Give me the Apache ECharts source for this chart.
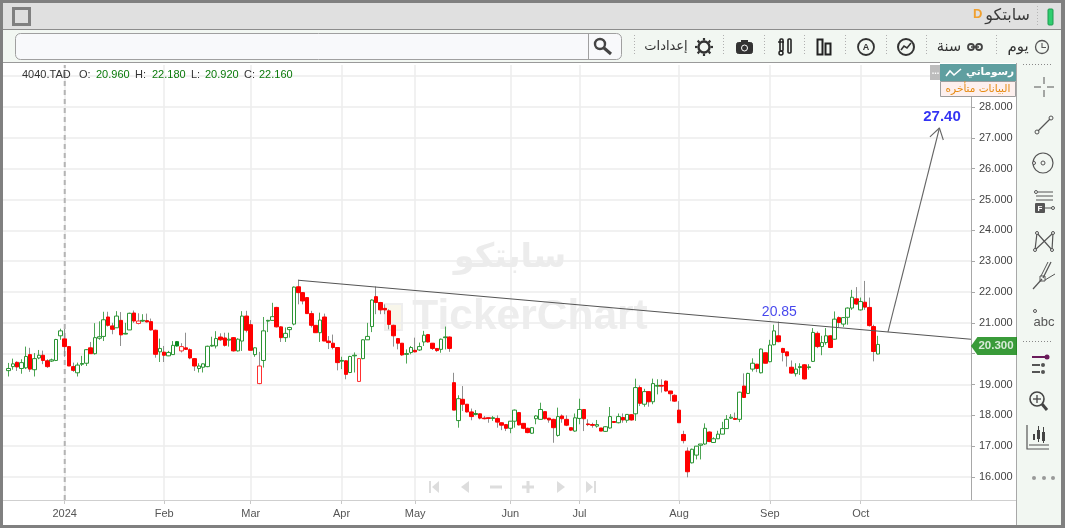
<!DOCTYPE html>
<html><head><meta charset="utf-8">
<style>html,body{margin:0;padding:0;background:#fff}#c{width:1068px;height:530px}</style>
<script src="https://cdn.jsdelivr.net/npm/echarts@6/dist/echarts.min.js"></script>
</head><body><div id="c"></div>
<script>
const opens=[19.45,19.58,19.72,19.52,19.54,19.97,19.48,19.86,19.95,19.77,
19.76,19.78,20.58,20.48,20.23,19.58,19.38,19.66,19.69,20.19,
20.00,20.50,20.56,21.19,20.90,20.84,21.08,20.64,20.77,21.32,
20.98,21.06,21.07,21.04,20.76,20.06,20.05,19.93,19.97,20.25,
20.09,20.19,20.13,19.84,19.52,19.56,19.58,20.25,20.25,20.54,
20.51,20.44,20.52,20.09,20.41,21.22,20.94,19.97,19.03,19.78,
21.06,21.08,21.50,20.87,20.52,20.78,20.96,22.17,21.98,21.82,
21.30,20.92,20.68,21.19,20.41,20.34,20.20,19.76,19.77,19.39,
19.93,19.10,19.84,20.45,20.88,21.85,21.66,21.47,21.39,20.92,
20.49,20.34,19.98,20.04,20.11,20.12,20.38,20.62,20.34,20.17,
20.14,20.52,20.54,19.06,17.83,18.52,18.36,18.11,18.03,18.05,
17.91,17.92,17.90,17.90,17.76,17.70,17.58,17.81,18.09,17.74,
17.58,17.42,17.89,17.87,18.12,17.91,17.87,17.35,17.98,17.87,
17.60,17.49,17.90,18.19,17.72,17.70,17.65,17.59,17.48,17.59,
17.80,17.76,17.93,17.84,18.02,18.05,18.90,18.36,18.77,18.44,
18.95,18.97,19.11,18.79,18.65,18.17,17.38,16.84,16.46,16.71,
17.03,17.07,17.46,17.12,17.24,17.39,17.57,17.91,17.90,17.87,
18.95,18.71,19.50,19.66,19.38,20.03,19.74,20.29,20.58,20.17,
20.06,19.56,19.35,19.55,19.64,19.55,19.75,20.66,20.23,20.36,
20.58,20.47,21.17,20.96,21.18,21.48,21.78,21.42,21.67,21.50,
20.88,19.99];
const closes=[19.52,19.67,19.57,19.71,19.91,19.50,19.84,19.95,19.78,19.58,
19.80,20.46,20.74,20.23,19.60,19.46,19.63,19.68,20.13,20.00,
20.52,20.55,21.10,20.92,20.79,21.22,20.61,20.66,21.31,21.06,
21.06,21.08,21.03,20.77,19.98,20.17,19.95,20.04,20.27,20.39,
20.23,20.14,19.86,19.60,19.60,19.67,20.24,20.27,20.49,20.45,
20.27,20.47,20.09,20.47,21.22,20.76,20.11,20.19,19.60,20.74,
21.08,21.20,20.87,20.52,20.66,20.85,22.16,21.98,21.71,21.30,
20.92,20.68,21.09,20.41,20.36,20.20,19.71,19.78,19.33,19.91,
19.95,19.84,20.45,20.56,21.74,21.66,21.42,21.42,20.95,20.58,
20.34,19.96,20.00,20.20,20.06,20.23,20.60,20.38,20.17,20.10,
20.47,20.54,20.17,18.17,18.54,18.36,18.11,17.96,18.06,17.91,
17.89,17.90,17.92,17.78,17.68,17.58,17.81,18.17,17.69,17.58,
17.44,17.60,17.98,18.19,17.89,17.85,17.60,17.96,17.89,17.68,
17.52,17.92,18.19,17.89,17.70,17.68,17.70,17.49,17.63,17.96,
17.77,17.96,17.85,18.03,17.85,18.90,18.39,18.77,18.44,19.03,
18.97,18.95,18.79,18.70,18.46,17.76,17.18,16.17,16.90,17.00,
17.07,17.58,17.15,17.24,17.39,17.57,17.87,17.94,17.87,18.75,
18.58,19.36,19.69,19.52,20.15,19.69,20.28,20.74,20.39,20.04,
19.93,19.37,19.50,19.58,19.18,19.57,20.69,20.23,20.36,20.58,
20.20,21.12,21.01,21.17,21.48,21.83,21.61,21.69,21.51,20.91,
20.07,20.30];
const highs=[19.70,19.84,19.75,19.82,20.23,20.19,20.02,20.12,20.10,19.82,
19.84,20.48,20.81,20.80,20.25,19.71,19.71,19.93,20.15,20.38,
20.99,21.05,21.36,21.36,21.00,21.38,21.35,21.00,21.33,21.40,
21.31,21.28,21.30,21.14,20.78,20.49,20.25,20.09,20.41,20.41,
20.34,20.68,20.17,19.86,19.69,19.68,20.26,20.55,20.73,20.66,
20.68,20.68,20.54,20.50,21.38,21.39,21.09,20.20,20.06,21.19,
21.10,21.65,21.52,20.89,20.85,20.87,22.18,22.40,22.00,21.82,
21.39,20.92,21.33,21.30,20.57,20.62,20.20,19.90,19.78,19.93,
20.04,19.86,20.47,21.00,21.76,22.18,21.68,21.60,21.44,20.94,
20.51,20.34,20.14,20.25,20.52,20.36,20.74,20.64,20.34,20.17,
20.49,20.88,20.56,19.38,18.65,18.95,18.36,18.22,18.17,18.05,
17.98,17.92,17.98,18.00,17.76,17.70,17.81,18.19,18.11,17.74,
17.60,17.62,18.00,18.41,18.12,17.91,17.89,18.25,18.03,18.00,
17.60,18.06,18.54,18.19,17.87,17.76,17.85,17.59,17.65,18.27,
17.80,18.06,18.06,18.03,18.04,19.19,18.97,18.86,18.77,19.19,
19.17,19.17,19.13,18.79,18.68,18.46,17.50,16.96,16.92,17.00,
17.07,17.74,17.48,17.29,17.50,17.79,18.01,18.04,18.09,18.77,
19.36,19.38,19.85,19.67,20.17,20.03,20.45,20.94,21.04,20.19,
20.06,19.78,19.69,19.69,19.66,19.66,20.83,20.72,20.58,20.83,
20.60,21.37,21.21,21.19,21.50,22.07,22.16,21.82,22.36,21.82,
20.94,20.58];
const lows=[19.26,19.48,19.44,19.35,19.50,19.41,19.26,19.82,19.66,19.54,
19.73,19.76,20.45,19.90,19.60,19.41,19.26,19.60,19.60,20.00,
19.97,20.45,20.41,20.88,20.63,20.84,20.25,20.63,20.77,21.00,
20.95,21.03,21.01,20.75,19.87,19.73,19.73,19.92,19.97,20.23,
20.04,20.12,19.82,19.44,19.39,19.39,19.56,20.23,20.17,20.41,
20.23,20.23,20.07,20.07,20.09,20.69,20.11,19.90,19.01,19.55,
20.70,21.08,20.85,20.38,20.38,20.52,20.92,21.60,21.60,21.30,
20.85,20.68,20.38,20.41,20.15,20.14,19.46,19.50,19.17,19.37,
19.39,19.08,19.82,20.45,20.70,21.28,21.28,21.28,20.79,20.23,
20.14,19.93,19.68,19.98,20.04,20.09,20.25,20.36,20.12,20.06,
20.03,20.14,20.06,18.17,17.60,18.14,18.09,17.84,18.00,17.87,
17.87,17.76,17.82,17.60,17.52,17.49,17.42,17.60,17.67,17.55,
17.42,17.40,17.71,17.87,17.87,17.76,17.11,17.31,17.76,17.65,
17.49,17.47,17.71,17.49,17.65,17.60,17.60,17.49,17.46,17.57,
17.77,17.74,17.76,17.76,17.83,17.82,18.30,18.28,18.28,18.36,
18.68,18.74,18.77,18.46,18.44,17.76,17.09,15.99,16.44,16.57,
16.57,17.04,17.13,17.12,17.24,17.39,17.57,17.88,17.85,17.78,
18.58,18.69,19.42,19.40,19.36,19.69,19.72,20.27,20.37,19.75,
19.58,19.35,19.26,19.31,19.16,19.48,19.73,20.18,19.95,20.29,
20.18,20.45,20.86,20.87,20.94,21.42,21.58,21.40,21.42,20.88,
19.75,19.98];
const monthNames=['2024','Feb','Mar','Apr','May','Jun','Jul','Aug','Sep','Oct'];
const monthStarts=[13,36,56,77,94,116,132,155,176,197];
const hollowRed=[30,40,58,81];
const solidGreen=[39];
const priceTicks=[16,17,18,19,21,22,23,24,25,26,27,28];
const gridTicks=[16,17,18,19,20,21,22,23,24,25,26,27,28,29];
const trendLine=[[67,22.38],[222.5,20.47]];
const targetArrow=[[203.3,20.70],[215.2,27.32]];
const arrowBarbs=[[213.0,27.03],[215.2,27.32],[216.1,26.93]];
const separatorIndex=13;
const peakNote={x:178.2,y:21.35,text:'20.85'};
const targetNote={x:215.8,y:27.69,text:'27.40'};
const lastPrice=20.30;
const latin='"Liberation Sans",Arial,sans-serif', arab='"DejaVu Sans",sans-serif';

const CATS=224, L=2, W=969, T=65, B=500;
const yMin=16+(477-B)/30.83, yMax=16+(477-T)/30.83;
const cats=Array.from({length:CATS},()=>'' );
monthStarts.forEach((m,i)=>cats[m+1]=monthNames[i]);
const isTick=(i,v)=>cats[i]!=='';

const blank=['-','-','-','-'];
const wickData=[{value:blank}], bodyData=[{value:blank}];
opens.forEach((o,i)=>{
  const c=closes[i], up=c>=o, hr=hollowRed.includes(i), sg=solidGreen.includes(i), mid=(o+c)/2;
  const wc=(up&&!hr)||sg?'#4da555':'#8f8f8f';
  wickData.push({value:[mid,mid,lows[i],highs[i]],itemStyle:{color:'transparent',color0:'transparent',borderColor:wc,borderColor0:wc,borderColorDoji:wc}});
  let fill,line;
  if(sg){fill='#0a8a1e';line='#0a8a1e';}
  else if(hr){fill='#fff';line='#ff3030';}
  else if(up){fill='#fff';line='#2a9433';}
  else{fill='#ff0000';line='#ff0000';}
  bodyData.push({value:[o,c,Math.min(o,c),Math.max(o,c)],itemStyle:{color:fill,color0:fill,borderColor:line,borderColor0:line,borderColorDoji:line}});
});

/* ------ chrome helpers ------ */
const g=[];
const rect=(x,y,w,h,fill,stroke,lw,r,z)=>g.push({type:'rect',shape:{x,y,width:w,height:h,r:r||0},style:{fill:fill||'none',stroke:stroke||'none',lineWidth:lw||1},z:z||20,silent:true});
const line=(x1,y1,x2,y2,c,lw,dash)=>g.push({type:'line',shape:{x1,y1,x2,y2},style:{stroke:c||'#555',lineWidth:lw||1,lineDash:dash||null},z:21,silent:true});
const poly=(pts,c,lw,fill)=>g.push({type:fill?'polygon':'polyline',shape:{points:pts},style:{stroke:fill?'none':(c||'#555'),lineWidth:lw||1.5,fill:fill||'none'},z:21,silent:true});
const circ=(x,y,r,c,lw,fill)=>g.push({type:'circle',shape:{cx:x,cy:y,r},style:{stroke:c||'none',lineWidth:lw||1.5,fill:fill||'none'},z:21,silent:true});
const txt=(x,y,s,o)=>{o=o||{};g.push({type:'text',x,y,style:{text:s,fill:o.c||'#333',font:(o.w||'normal')+' '+(o.s||11)+'px '+(o.f||latin),align:o.a||'left',verticalAlign:'middle'},z:o.z||22,silent:true});};

/* watermark */
txt(510,258,'سابتكو',{s:33.5,w:'bold',f:arab,c:'#ececec',a:'center',z:-1});
txt(530,317,'TickerChart',{s:42.5,w:'bold',c:'#ededed',a:'center',z:-1});
rect(385,304,17,26,'#f8f6ea','#eeeeee',2,0,-1);

/* window + toolbars */
rect(0,0,1068,29,'#e0e0e0',null,1,0,19);
rect(0,30,1068,33,'#f2f7f2',null,1,0,19);
line(0,29.5,1068,29.5,'#8c8c8c',1);
line(0,62.5,940,62.5,'#9a9a9a',1);
rect(1017,63,45,462,'#f2f7f2',null,1,0,19);
line(1016.5,63,1016.5,525,'#a8a8a8',1);
line(3,500.5,1016,500.5,'#cfcfcf',1);
rect(0,0,1065,3,'#808080',null,1,0,30);
rect(0,525,1065,3,'#808080',null,1,0,30);
rect(0,0,3,528,'#808080',null,1,0,30);
rect(1061,0,4,528,'#808080',null,1,0,30);
rect(0,528,1068,2,'#ffffff',null,1,0,31);
rect(1065,0,3,530,'#ffffff',null,1,0,31);

rect(13.5,8.5,16,16,'#dedede','#808080',3);
rect(1048,9,5,16,'#2fce6f','#1f9a50',1,1);
line(1037.5,6,1037.5,26,'#b5b5b5',1,[1,2]);
txt(1030,16,'سابتكو',{s:16,f:arab,a:'right',c:'#3a3a3a'});
txt(973,14,'D',{s:13,w:'bold',c:'#f0a030'});

/* search box */
rect(15.5,33.5,606,26,'#f8f9fb','#a0a0a0',1,5);
line(588.5,34,588.5,59,'#a0a0a0',1);
circ(600,44,5,'#444',2.4);
line(604,48,611,54,'#444',3);

/* toolbar separators */
[996,926,886,845,804,764,723,634].forEach(x=>line(x+.5,35,x+.5,56,'#b0b0b0',1,[1,2]));
/* clock + day */
circ(1042,47,6.5,'#555',1.3);poly([[1042,43],[1042,47.5],[1046,47.5]],'#555',1.1);
txt(1018,47,'يوم',{s:15,f:arab,a:'center'});
/* chain + year */
circ(971,47,3,'#444',1.8);circ(979,47,3,'#444',1.8);line(971,47,979,47,'#444',1.6);
txt(949,47,'سنة',{s:14.5,f:arab,a:'center'});
/* chart circle */
circ(906,47,8,'#333',2);poly([[901,50],[904,46],[907,48],[911,43]],'#333',1.6);
/* A circle */
circ(866,47,8,'#333',1.8);txt(866,47.5,'A',{s:9,w:'bold',a:'center'});
/* bars */
rect(817.5,39.5,5,15,'none','#222',2);rect(825.5,43.5,5,11,'none','#222',2);
/* tools */
rect(780,39,3,12,'none','#222',1.6,1);circ(781,53,2,'#222',1.5);rect(788,39,3,14,'none','#222',1.6,1);line(778,42,784,42,'#222',1.4);
/* camera */
rect(736.5,42.5,16,11,'#333','#333',1,2);rect(741,40,7,3,'#333');circ(744.5,48,3,'#fff',1,'#333');
/* gear */
circ(704,47,5.5,'#333',2.4);
[0,45,90,135,180,225,270,315].forEach(a=>{const r=a*Math.PI/180;line(704+Math.cos(r)*6.5,47+Math.sin(r)*6.5,704+Math.cos(r)*9,47+Math.sin(r)*9,'#333',2.2);});
txt(666,47,'إعدادات',{s:13,f:arab,a:'center'});

/* panels */
rect(930,65,11,15,'#bdbdbd');txt(935.5,72,'...',{s:9,w:'bold',c:'#fff',a:'center'});
rect(940,64,76,17,'#5f9fa0');
poly([[946,76],[950,71],[954,75],[961,69]],'#fff',1.6);
txt(1014,72.5,'رسوماتي',{s:10.5,f:arab,w:'bold',c:'#fff',a:'right'});
rect(940.5,81.5,75,15,'#fdf0ee','#9d9d9d',1);
txt(978,89,'البيانات متأخره',{s:10.5,f:arab,c:'#e68a10',a:'center'});

/* header */
txt(22,75,'4040.TAD',{c:'#333'});
[['O:',79,96,'20.960'],['H:',135,152,'22.180'],['L:',191,205,'20.920'],['C:',244,259,'22.160']].forEach(r=>{txt(r[1],75,r[0],{c:'#333'});txt(r[2],75,r[3],{c:'#0a7a0a'});});

/* nav icons */
const nc='#dddddd';
rect(429,481,2,12,nc);poly([[439,481],[439,493],[432,487]],null,1,nc);
poly([[469,481],[469,493],[461,487]],null,1,nc);
rect(490,485.5,12,3,nc);
rect(522,485.5,12,3,nc);rect(526.5,481,3,12,nc);
poly([[557,481],[557,493],[565,487]],null,1,nc);
poly([[586,481],[586,493],[593,487]],null,1,nc);rect(594,481,2,12,nc);

/* sidebar */
const sc='#555';
line(1023,64.5,1052,64.5,'#888',1,[1,2]);line(1023,341.5,1052,341.5,'#888',1,[1,2]);
line(1044,77,1044,84,sc,1);line(1044,90,1044,97,sc,1);line(1034,87,1041,87,sc,1);line(1047,87,1054,87,sc,1);
line(1038,131,1050,119,sc,1.2);circ(1037,132,2,sc,1);circ(1051,118,2,sc,1);
circ(1043,163,10,sc,1.2);circ(1043,163,2,sc,1);circ(1034,163,1.5,sc,1,'#fff');
circ(1036,192,1.5,sc,1);line(1038,192,1053,192,sc,1);line(1036,196,1053,196,sc,1);line(1036,200,1053,200,sc,1);
rect(1035,203,10,10,'#555',null,1,1);txt(1040,208.5,'F',{s:8,w:'bold',c:'#fff',a:'center'});line(1045,208,1052,208,sc,1);circ(1053,208,1.5,sc,1);
poly([[1035,250],[1037,233],[1052,250],[1053,233],[1035,250]],sc,1.2);
[[1035,250],[1037,233],[1052,250],[1053,233]].forEach(p=>circ(p[0],p[1],1.5,sc,1,'#f2f7f2'));
line(1033,289,1042,279,sc,1.2);line(1043,278,1051,262,sc,1.2);line(1041,276,1048,262,sc,1);line(1045,280,1055,274,sc,1);rect(1040,276,5,5,'none',sc,1);
circ(1035,311,1.5,sc,1);txt(1044,322,'abc',{s:13,c:'#555',a:'center'});
line(1032,357,1045,357,'#6a1b5a',2);circ(1047,357,2.5,null,1,'#6a1b5a');line(1032,365,1040,365,'#555',2);circ(1043,365,2,null,1,'#555');line(1032,372,1040,372,'#555',2);circ(1043,372,2,null,1,'#555');
circ(1037,399,7,'#444',1.6);line(1037,395,1037,403,'#444',1.3);line(1033,399,1041,399,'#444',1.3);line(1042,404,1047,410,'#444',3);
poly([[1027,425],[1027,449],[1049,449]],'#555',1.2);line(1029,445,1049,445,'#555',1);
rect(1037,430,3,9,'#444');line(1038.5,426,1038.5,442,'#444',1);rect(1042,432,3,9,'#444');line(1043.5,427,1043.5,443,'#444',1);rect(1033,434,2,6,'#444');
circ(1034,478,2,null,1,'#999');circ(1044,478,2,null,1,'#999');circ(1053,478,2,null,1,'#999');

const chart=echarts.init(document.getElementById('c'),null,{renderer:'canvas',width:1068,height:530});
chart.setOption({
  animation:false,backgroundColor:'#fff',
  grid:{left:L,top:T,width:W,height:B-T,containLabel:false},
  graphic:{elements:g},
  xAxis:[
    {type:'category',data:cats,boundaryGap:true,
      axisLine:{show:false},
      axisTick:{show:true,alignWithLabel:true,interval:isTick,length:4,lineStyle:{color:'#c8c8c8'}},
      axisLabel:{interval:isTick,color:'#555',fontFamily:latin,fontSize:11,margin:8,hideOverlap:false},
      splitLine:{show:true,alignWithLabel:true,interval:isTick,lineStyle:{color:'#ededed',width:1.5}}},
    {type:'value',min:-1.5,max:CATS-1.5,show:false,splitLine:{show:false}}
  ],
  yAxis:{type:'value',position:'right',min:yMin,max:yMax,scale:true,
    axisLine:{show:true,onZero:false,lineStyle:{color:'#a8a8a8'}},
    axisTick:{show:true,length:4,customValues:gridTicks,lineStyle:{color:'#a8a8a8'}},
    axisLabel:{customValues:priceTicks,color:'#444',fontFamily:latin,fontSize:11,margin:8,padding:[2,0,0,0],formatter:v=>v.toFixed(3)},
    splitLine:{show:true,lineStyle:{color:'#ededed',width:1.5}}},
  series:[
    {type:'line',xAxisIndex:1,data:[[separatorIndex,yMin],[separatorIndex,yMax]],symbol:'none',silent:true,z:1,
      lineStyle:{color:'#b4b4b4',width:2,type:[5,4]}},
    {name:'wick',type:'candlestick',xAxisIndex:0,data:wickData,barWidth:4,z:3},
    {name:'body',type:'candlestick',xAxisIndex:0,data:bodyData,barWidth:4,z:4},
    {type:'line',xAxisIndex:1,data:trendLine,symbol:'none',silent:true,z:5,lineStyle:{color:'#555',width:1.1}},
    {type:'line',xAxisIndex:1,data:targetArrow,symbol:'none',silent:true,z:5,lineStyle:{color:'#666',width:1.1}},
    {type:'line',xAxisIndex:1,data:arrowBarbs,symbol:'none',silent:true,z:5,lineStyle:{color:'#666',width:1.1}},
    {type:'scatter',xAxisIndex:1,symbolSize:0,silent:true,z:6,
      data:[{value:[peakNote.x,peakNote.y],label:{show:true,position:'inside',formatter:peakNote.text,color:'#1616e8',fontSize:14,fontWeight:'normal',fontFamily:latin}},
            {value:[targetNote.x,targetNote.y],label:{show:true,position:'inside',formatter:targetNote.text,color:'#0000f0',fontSize:15,fontWeight:'bold',fontFamily:latin}}]},
    {type:'scatter',xAxisIndex:1,silent:true,z:40,clip:false,
      data:[[CATS-1.5,lastPrice]],symbol:'path://M0 50 L14 0 L100 0 L100 100 L14 100 Z',symbolSize:[46,18],symbolOffset:[23,1.5],
      itemStyle:{color:'#078207'},
      label:{show:true,position:'inside',offset:[2,0],formatter:p=>p.value[1].toFixed(3),color:'#fff',fontWeight:'bold',fontSize:11.5,fontFamily:latin}}
  ]
});
</script></body></html>
